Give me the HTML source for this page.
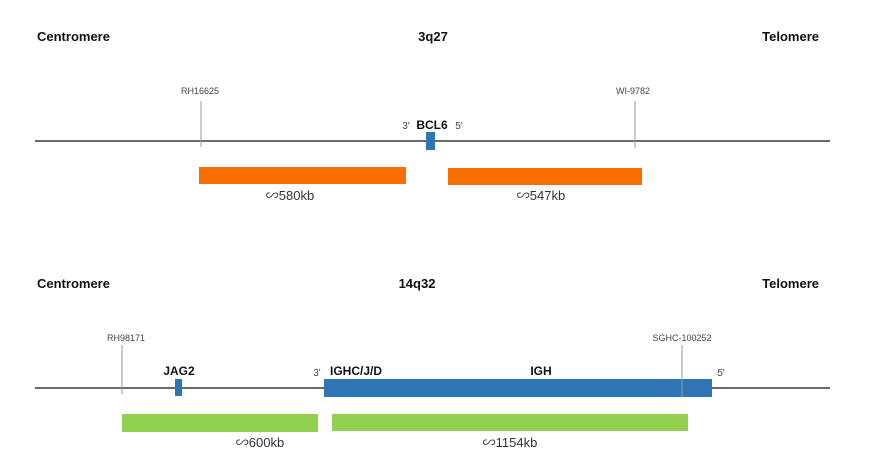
<!DOCTYPE html>
<html><head><meta charset="utf-8"><style>
html,body{margin:0;padding:0;background:#fff;}
svg{display:block;font-family:"Liberation Sans","Noto Sans CJK SC",sans-serif;}
.b{font-weight:bold;font-size:13px;fill:#111;}
.s{font-size:9px;fill:#444;}
.k{font-size:13px;fill:#333;}
</style></head><body>
<svg width="872" height="461" viewBox="0 0 872 461">
<g>
<text class="b" x="37" y="41">Centromere</text>
<text class="b" x="433" y="41" text-anchor="middle">3q27</text>
<text class="b" x="819" y="41" text-anchor="end">Telomere</text>
<line x1="35" y1="141" x2="830" y2="141" stroke="#111" stroke-width="1.3"/>
<line x1="201" y1="101" x2="201" y2="147" stroke="#999"/>
<text class="s" x="200" y="94" text-anchor="middle">RH16625</text>
<line x1="635" y1="101" x2="635" y2="148" stroke="#999"/>
<text class="s" x="633" y="94" text-anchor="middle">WI-9782</text>
<rect x="426" y="132" width="9" height="18" fill="#2e75b6"/>
<text class="s" x="406" y="129" text-anchor="middle" style="font-size:10px">3'</text>
<text class="b" x="432" y="129" text-anchor="middle" style="font-size:12px">BCL6</text>
<text class="s" x="459" y="129" text-anchor="middle" style="font-size:10px">5'</text>
<rect x="199" y="167" width="207" height="17" fill="#f97000"/>
<rect x="448" y="168" width="194" height="17" fill="#f97000"/>
<text class="k" x="290" y="200" text-anchor="middle">∽580kb</text>
<text class="k" x="541" y="200" text-anchor="middle">∽547kb</text>
</g>
<g>
<text class="b" x="37" y="288">Centromere</text>
<text class="b" x="417" y="288" text-anchor="middle">14q32</text>
<text class="b" x="819" y="288" text-anchor="end">Telomere</text>
<line x1="35" y1="388" x2="830" y2="388" stroke="#111" stroke-width="1.3"/>
<line x1="122" y1="345" x2="122" y2="394" stroke="#999"/>
<text class="s" x="126" y="341" text-anchor="middle">RH98171</text>
<rect x="175" y="379" width="7" height="17" fill="#2e75b6"/>
<text class="b" x="179" y="375" text-anchor="middle" style="font-size:12px">JAG2</text>
<rect x="324" y="379" width="388" height="18" fill="#2e75b6"/>
<line x1="682" y1="345" x2="682" y2="397" stroke="#999"/>
<text class="s" x="682" y="341" text-anchor="middle">SGHC-100252</text>
<text class="s" x="317" y="376" text-anchor="middle" style="font-size:10px">3'</text>
<text class="b" x="356" y="375" text-anchor="middle" style="font-size:12px">IGHC/J/D</text>
<text class="b" x="541" y="375" text-anchor="middle" style="font-size:12px">IGH</text>
<text class="s" x="721" y="376" text-anchor="middle" style="font-size:10px">5'</text>
<rect x="122" y="414" width="196" height="18" fill="#92d050"/>
<rect x="332" y="414" width="356" height="17" fill="#92d050"/>
<text class="k" x="260" y="447" text-anchor="middle">∽600kb</text>
<text class="k" x="510" y="447" text-anchor="middle">∽1154kb</text>
</g>
</svg>
</body></html>
